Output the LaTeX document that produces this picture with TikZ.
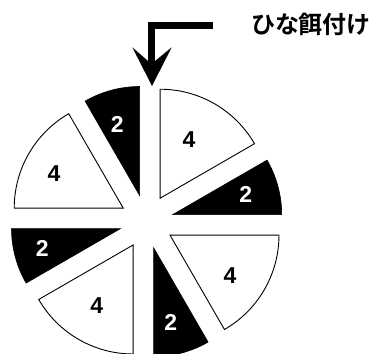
\documentclass[tikz,border=0pt]{standalone}
\usepackage{fontspec}
\setmainfont{Liberation Sans}
\newfontfamily\jpfont{Noto Sans CJK JP}[BoldFont={* Bold}]
\usetikzlibrary{calc}
\tikzset{
  whitepiece/.style={draw=black, fill=white, line width=0.9pt},
  blackpiece/.style={draw=black, fill=black, line width=0.6pt},
  numdark/.style={font=\fontsize{23}{23}\selectfont\bfseries, text=black, inner sep=0pt},
  numlight/.style={font=\fontsize{23}{23}\selectfont\bfseries, text=white, inner sep=0pt},
  bigarrow/.style={line width=7.6pt, miter limit=10},
  title/.style={font=\jpfont\bfseries\fontsize{24}{24}\selectfont, inner sep=0pt}
}
\begin{document}
\begin{tikzpicture}[x=1pt,y=1pt]
\useasboundingbox (0,0) rectangle (373,354);
\clip (0,0) rectangle (373,354);
\coordinate (C) at (146.6,132.4);
% pieces: start angle, end angle, style
\foreach \a/\b/\s in {30/90/whitepiece, 90/120/blackpiece, 120/180/whitepiece, 180/210/blackpiece,
                      210/270/whitepiece, 270/300/blackpiece, 300/360/whitepiece, 0/30/blackpiece}{
  \pgfmathsetmacro{\m}{(\a+\b)/2}
  \path[\s] ($(C)+(\m:27)$) -- ++(\a:109) arc[start angle=\a, end angle=\b, radius=109] -- cycle;
}
% labels
\node[numdark]  (n1) at (189,214.7) {4};
\node[numlight] (n2) at (245.7,160) {2};
\node[numdark]  (n3) at (230,78) {4};
\node[numlight] (n4) at (170.7,31.3) {2};
\node[numdark]  (n5) at (96.7,48) {4};
\node[numlight] (n6) at (42.3,105.7) {2};
\node[numdark]  (n7) at (54,180.7) {4};
\node[numlight] (n8) at (117.3,230) {2};
% title
\node[title] (t) at (311,329.3) {ひな餌付け};
% arrow
\coordinate (a0) at (213.3,328.5);
\coordinate (a1) at (151.5,328.5);
\coordinate (a2) at (151.5,288);
\coordinate (tip) at (152,268);
\coordinate (wl) at (132.3,306.7);
\coordinate (wr) at (171.7,306.7);
\coordinate (notch) at (151.5,290);
\draw[bigarrow] (a0) -- (a1) -- (a2);
\fill (tip) -- (wl) -- (notch) -- (wr) -- cycle;
\end{tikzpicture}
\end{document}
